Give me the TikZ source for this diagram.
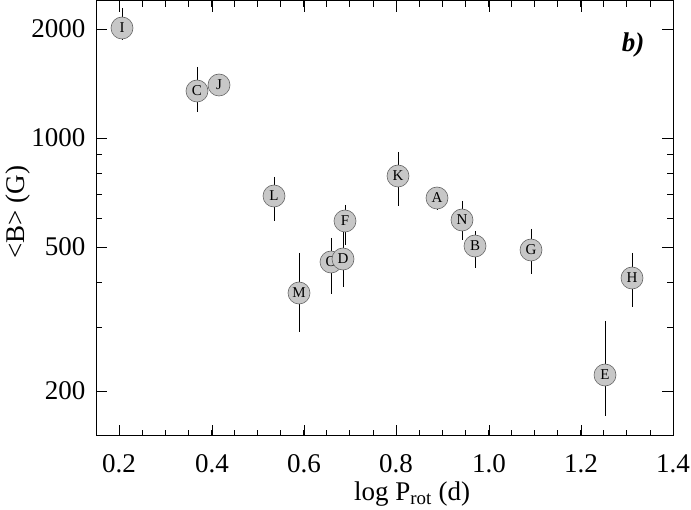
\documentclass[tikz,border=0pt]{standalone}
\usepackage{fontspec}
\setmainfont{Liberation Serif}
\begin{document}
\begin{tikzpicture}[x=1pt,y=-1pt,
  pt/.style={circle,draw=black!60,fill=black!22,line width=0.6pt,minimum size=22pt,inner sep=0pt,font=\fontsize{15}{15}\selectfont},
  eb/.style={line width=1pt},
  tk/.style={font=\fontsize{27}{30}\selectfont}]
\useasboundingbox (0,0) rectangle (691,510);
\draw[line width=1pt] (96,1) rectangle (673,436);
% x ticks
\foreach \i in {0,...,25}{\pgfmathsetmacro\xx{96+\i*23.08}
  \draw[line width=0.8pt] (\xx,436) -- (\xx,430) (\xx,1) -- (\xx,7);}
\foreach \v/\xx in {0.2/119,0.4/212,0.6/304,0.8/396,1.0/489,1.2/581,1.4/673}{
  \draw[line width=0.8pt] (\xx,436) -- (\xx,425) (\xx,1) -- (\xx,12);
  \node[tk] (x\v) at (\xx,464) {\v};}
% y ticks
\foreach \b in {300,400,600,700,800,900}{\pgfmathsetmacro\yy{391-(log10(\b)-log10(200))*362}
  \draw[line width=0.8pt] (96,\yy) -- (102,\yy) (673,\yy) -- (667,\yy);}
\foreach \b in {200,500,1000,2000}{\pgfmathsetmacro\yy{391-(log10(\b)-log10(200))*362}
  \draw[line width=0.8pt] (96,\yy) -- (107,\yy) (673,\yy) -- (662,\yy);
  \node[tk,anchor=east] (y\b) at (89,\yy) {\b};}
\node[tk,rotate=90] (ylab) at (18,212) {<B> (G)};
\node[tk] (xlab) at (412,494) {log P\textsubscript{rot} (d)};
\node[font=\fontsize{27}{30}\selectfont\bfseries\itshape] (lab) at (633,45) {b)};
% data: name x y errtop errbottom
\foreach \n/\xx/\yy/\ta/\tb in {I/122/28/8/40, C/197/91/67/112, J/219/85/85/85, L/274/196/177/221,
  M/299/293/253/332, O/331/262/238/294, D/343/259/232/287, F/345/221/205/245,
  K/398/176/152/206, A/437/198/192/210, N/462/220/201/240, B/475/246/231/268,
  G/531/250/229/274, H/632/278/253/307, E/605/375/321/416}{
  \coordinate (t\n) at (\xx,\ta); \coordinate (b\n) at (\xx,\tb);
  \draw[eb] (t\n) -- (b\n);
  \node[pt] (\n) at (\xx,\yy) {\n};}
\end{tikzpicture}
\end{document}
